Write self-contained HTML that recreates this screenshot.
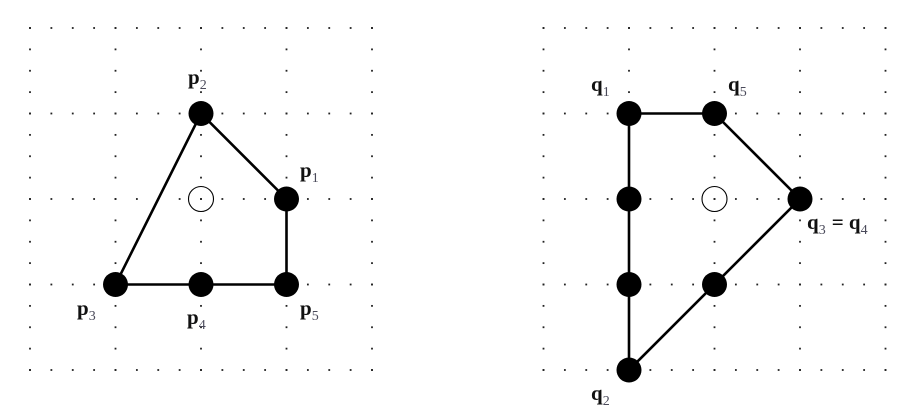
<!DOCTYPE html>
<html><head><meta charset="utf-8">
<style>
html,body{margin:0;padding:0;background:#fff;}
svg{display:block;}
text{font-family:"Liberation Serif",serif;font-weight:bold;font-size:21px;fill:#111;}
tspan.s{font-size:14px;font-weight:normal;fill:#4a4a5a;}
</style></head><body>
<svg id="g" width="910" height="418" viewBox="0 0 910 418" xmlns="http://www.w3.org/2000/svg">
<g id="dots" fill="#222"></g>
<g stroke="#000" stroke-width="2.6" fill="none">
<polyline points="286.5,199 201,113.5 115.5,284.5 286.5,284.5 286.5,199"/>
<polyline points="629,113.5 714.5,113.5 800,199 629,370 629,113.5"/>
</g>
<g fill="#000">
<circle cx="201" cy="113.5" r="12.5"/><circle cx="286.5" cy="199" r="12.5"/>
<circle cx="115.5" cy="284.5" r="12.5"/><circle cx="201" cy="284.5" r="12.5"/><circle cx="286.5" cy="284.5" r="12.5"/>
<circle cx="629" cy="113.5" r="12.5"/><circle cx="714.5" cy="113.5" r="12.5"/>
<circle cx="629" cy="199" r="12.5"/><circle cx="800" cy="199" r="12.5"/>
<circle cx="629" cy="284.5" r="12.5"/><circle cx="714.5" cy="284.5" r="12.5"/>
<circle cx="629" cy="370" r="12.5"/>
</g>
<g fill="none" stroke="#000" stroke-width="1.1">
<circle cx="201" cy="199" r="12.5"/><circle cx="714.5" cy="199" r="12.5"/>
</g>
<text x="188" y="84">p<tspan class="s" dy="5">2</tspan></text>
<text x="300" y="177">p<tspan class="s" dy="5">1</tspan></text>
<text x="77" y="315">p<tspan class="s" dy="5">3</tspan></text>
<text x="187" y="324">p<tspan class="s" dy="5">4</tspan></text>
<text x="300" y="315">p<tspan class="s" dy="5">5</tspan></text>
<text x="591" y="91">q<tspan class="s" dy="5">1</tspan></text>
<text x="728" y="91">q<tspan class="s" dy="5">5</tspan></text>
<text x="807" y="229">q<tspan class="s" dy="5">3</tspan><tspan dy="-5" dx="6">= q</tspan><tspan class="s" dy="5">4</tspan></text>
<text x="591" y="400">q<tspan class="s" dy="5">2</tspan></text>
</svg>
<script>
var g=document.getElementById('dots'),ns='http://www.w3.org/2000/svg';
function d(x,y){var c=document.createElementNS(ns,'rect');c.setAttribute('x',x-0.9);c.setAttribute('y',y-0.9);c.setAttribute('width',1.8);c.setAttribute('height',1.8);g.appendChild(c);}
[30,543.5].forEach(function(x0){
 var y0=28,st=85.5,sm=st/4;
 for(var i=0;i<5;i++){for(var k=0;k<=16;k++){d(x0+k*sm,y0+i*st);d(x0+i*st,y0+k*sm);}}
});
</script>
</body></html>
